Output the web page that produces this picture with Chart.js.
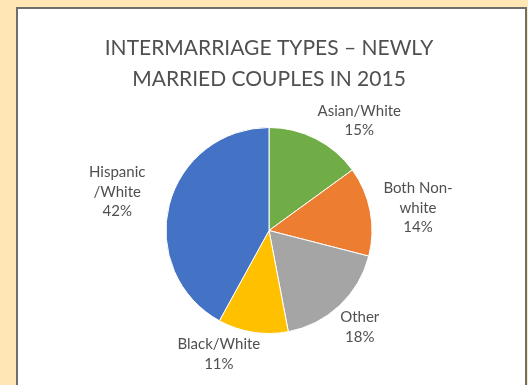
<!DOCTYPE html>
<html>
<head>
<meta charset="utf-8">
<script src="https://cdn.jsdelivr.net/npm/chart.js@4/dist/chart.umd.min.js"></script>
<style>
  html, body { margin: 0; padding: 0; }
  body { width: 528px; height: 385px; background: #ffe6b4; position: relative; overflow: hidden; }
  #panel {
    position: absolute; left: 16px; top: 7px; width: 511px; height: 400px;
    box-sizing: border-box; background: #fff; border: 2px solid #6e6e6e;
  }
  #wrap { position: absolute; left: 0; top: 0; width: 528px; height: 385px; }
</style>
</head>
<body>
<div id="panel"></div>
<div id="wrap"><canvas id="pie"></canvas></div>
<script>
var categories = ['Asian/White', 'Both Non-white', 'Other', 'Black/White', 'Hispanic/White'];
var shares = [15, 14, 18, 11, 42];
// how each category is broken over lines next to its slice
var labelLines = [['Asian/White'], ['Both Non-', 'white'], ['Other'], ['Black/White'], ['Hispanic', '/White']];
var sliceColors = ['#70ad47', '#ed7d31', '#a5a5a5', '#ffc000', '#4472c4'];

var textColor = '#505050';
var labelFont = '15px Lato';

// puts the category and percentage just outside each slice
var outsideLabels = {
    id: 'outsideLabels',
    afterDatasetsDraw: function (chart, args, opts) {
        var c = chart.ctx;
        var meta = chart.getDatasetMeta(0);
        var lineH = 19.5;
        c.save();
        c.font = labelFont;
        c.fillStyle = textColor;
        c.textAlign = 'center';
        c.textBaseline = 'middle';
        meta.data.forEach(function (arc, i) {
            var lines = labelLines[i].concat([shares[i] + '%']);
            var w = 0;
            lines.forEach(function (l) { w = Math.max(w, c.measureText(l).width); });
            var hw = w / 2, hh = lines.length * lineH / 2;
            var mid = (arc.startAngle + arc.endAngle) / 2;
            var d = arc.outerRadius + opts.gap;
            var nudge = opts.nudge[i] || [0, 0];
            var cx = arc.x + Math.cos(mid) * d + Math.cos(mid) * hw + nudge[0];
            var cy = arc.y + Math.sin(mid) * d + Math.sin(mid) * hh + nudge[1];
            lines.forEach(function (l, k) {
                c.fillText(l, cx, cy - hh + lineH * (k + 0.5));
            });
        });
        c.restore();
    }
};

new Chart(document.getElementById('pie'), {
    type: 'pie',
    data: {
        labels: categories,
        datasets: [{
            data: shares,
            backgroundColor: sliceColors,
            borderColor: '#ffffff',
            borderWidth: 1,
            radius: 103
        }]
    },
    options: {
        responsive: true,
        maintainAspectRatio: false,
        animation: false,
        layout: { padding: { left: 10, right: 0, top: 0, bottom: 19 } },
        plugins: {
            legend: { display: false },
            tooltip: { enabled: false },
            title: {
                display: true,
                text: ['INTERMARRIAGE TYPES \u2013 NEWLY', 'MARRIED COUPLES IN 2015'],
                color: textColor,
                font: { family: 'Lato', size: 21, weight: 'normal', lineHeight: 1.5 },
                padding: { top: 32, bottom: 0 }
            },
            outsideLabels: {
                gap: 10,
                nudge: [[20, 8], [4, 4], [0, 0], [-26, -7], [-15, -3]]
            }
        }
    },
    plugins: [outsideLabels]
});
</script>
</body>
</html>
